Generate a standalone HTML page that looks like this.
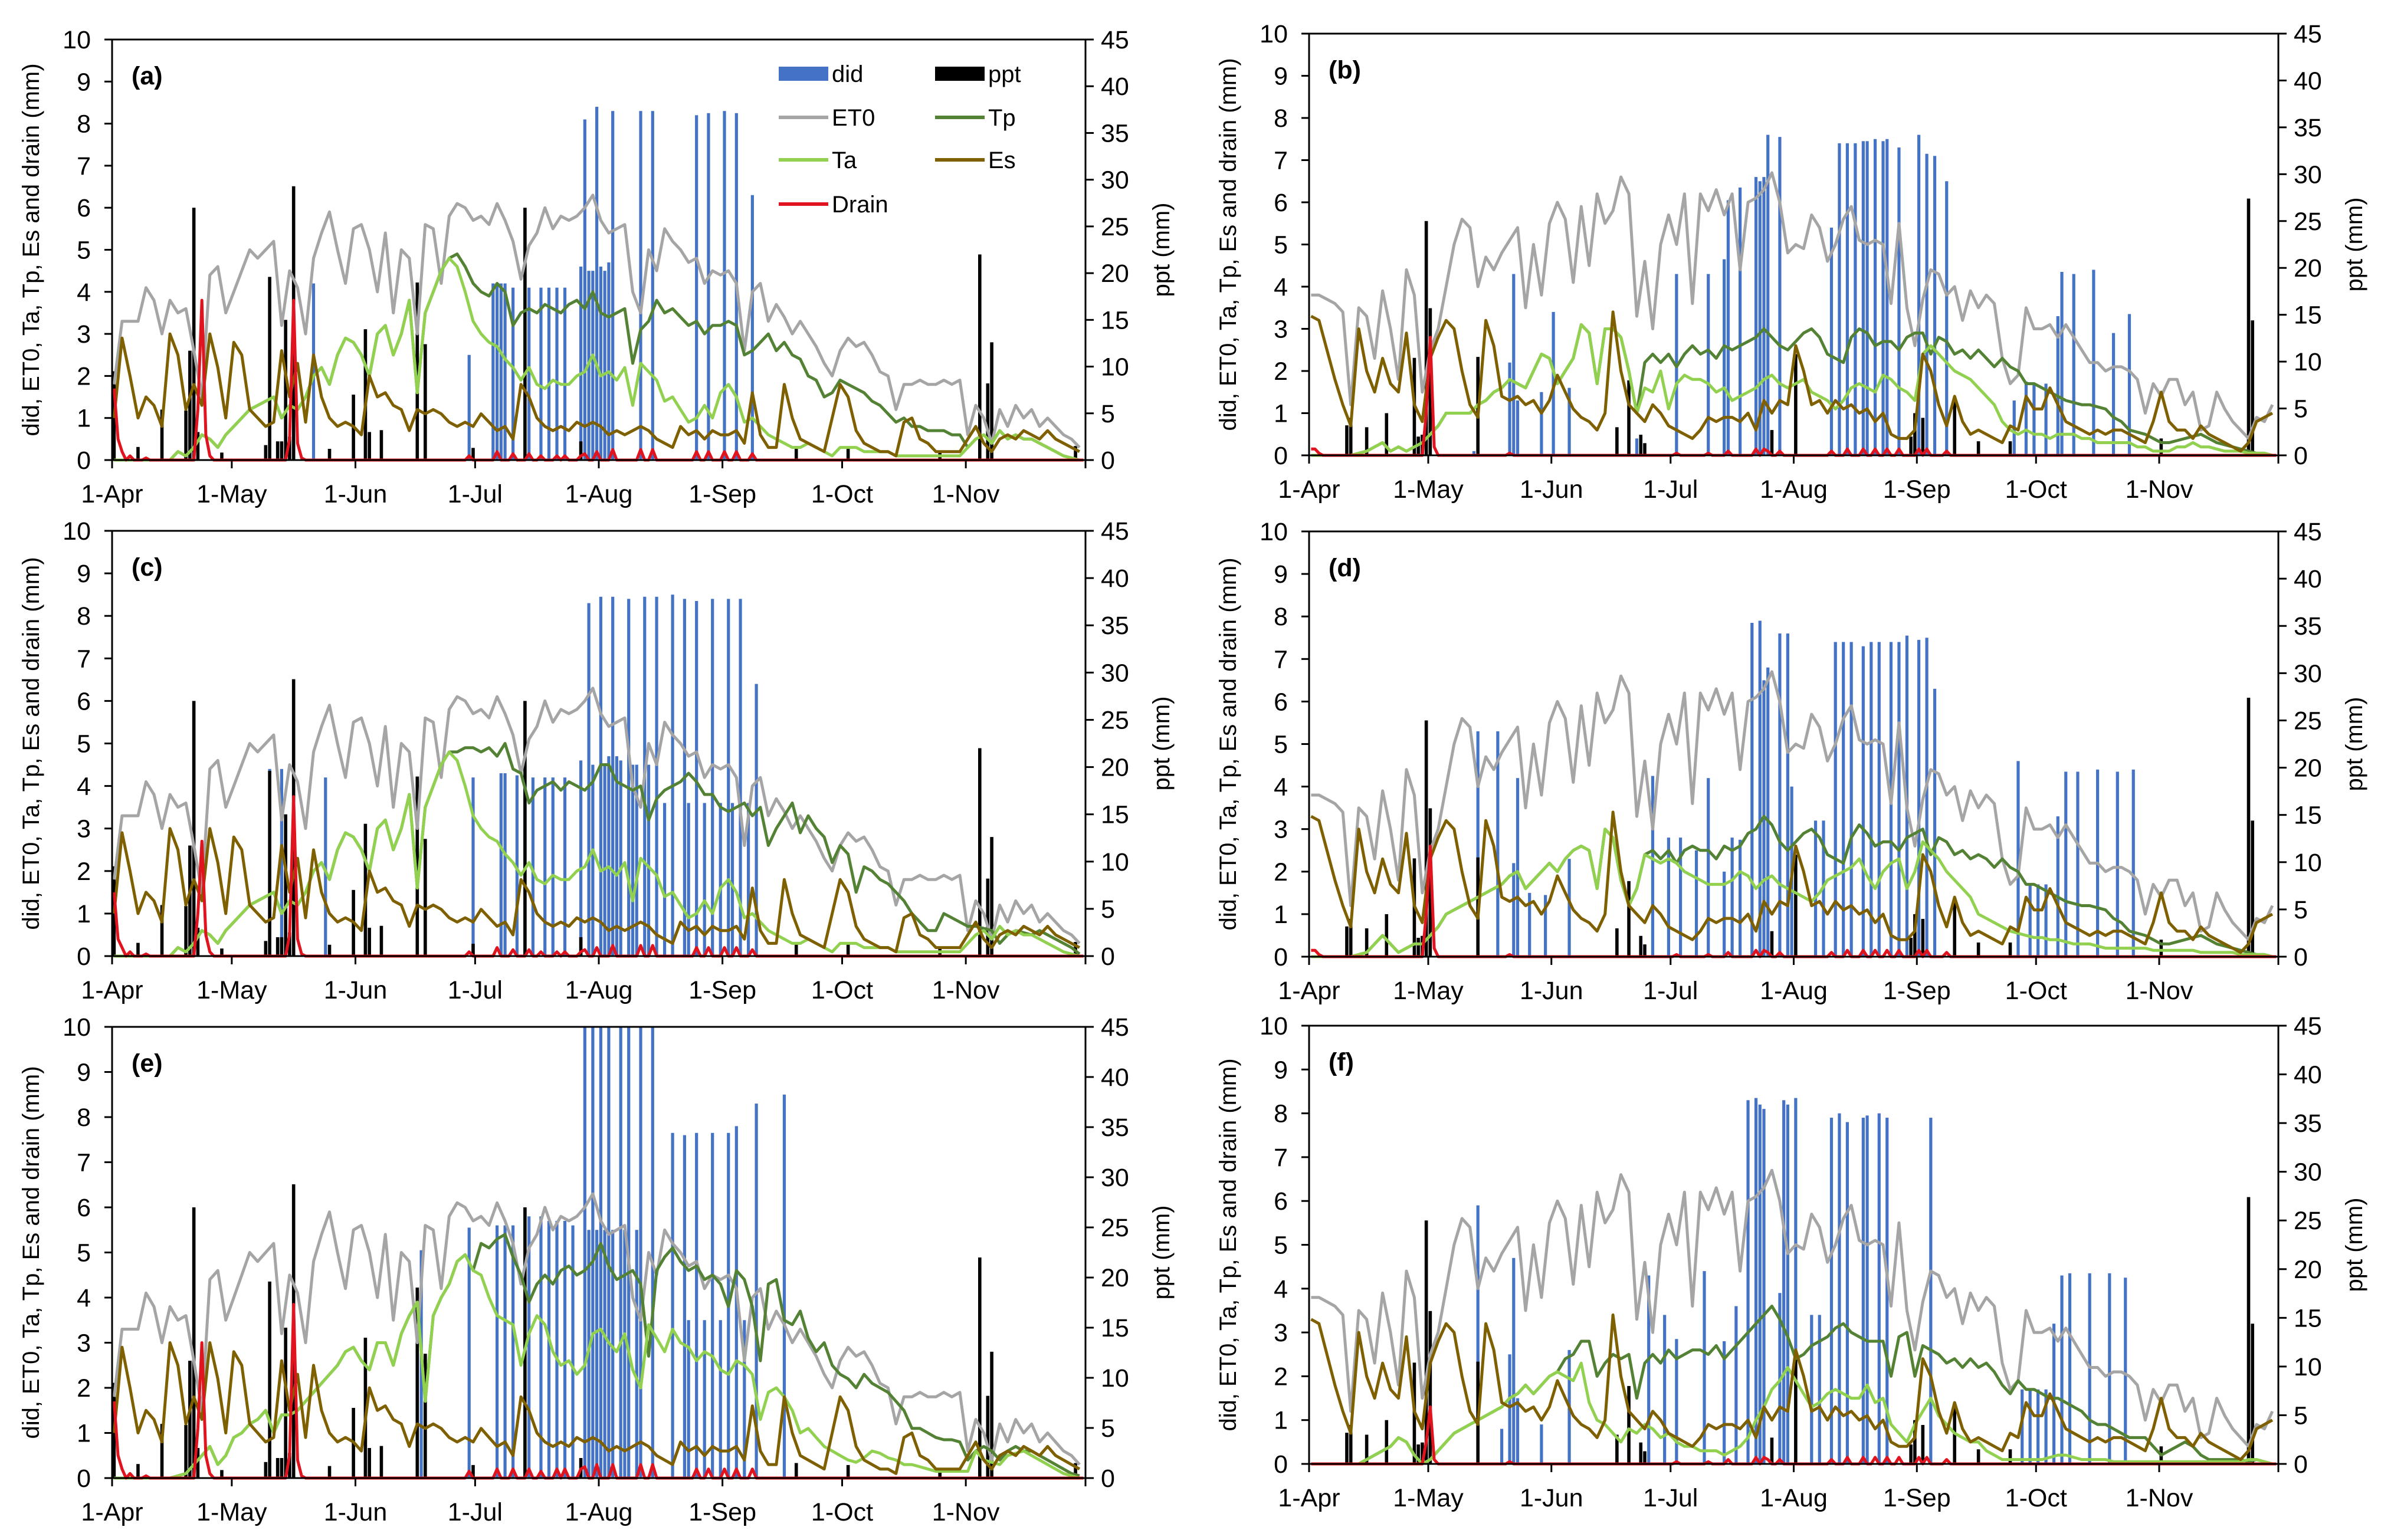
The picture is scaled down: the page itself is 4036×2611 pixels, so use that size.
<!DOCTYPE html>
<html><head><meta charset="utf-8"><style>
html,body{margin:0;padding:0;background:#fff;}
svg{display:block;font-family:"Liberation Sans",Arial,sans-serif;}
</style></head><body>
<svg id="chart" width="4036" height="2611" viewBox="0 0 4036 2611" xmlns="http://www.w3.org/2000/svg">
<rect x="0" y="0" width="4036" height="2611" fill="#fff"/>
</svg>
<script>
// ---------- DATA (line series sampled every 2 days, day 0 = 1-Apr) ----------
const months = ['1-Apr','1-May','1-Jun','1-Jul','1-Aug','1-Sep','1-Oct','1-Nov'];
const monthDays = [0,30,61,91,122,153,183,214,244];
const leftTicks = [0,1,2,3,4,5,6,7,8,9,10];
const rightTicks = [0,5,10,15,20,25,30,35,40,45];

const et0A = [1.8,3.3,3.3,3.3,4.1,3.8,3.0,3.8,3.5,3.6, 2.6,1.5,4.4,4.6,3.5,4.0,4.5,5.0,4.8,5.0, 5.2,3.2,4.5,4.1,3.0,4.8,5.4,5.9,5.0,4.2, 5.5,5.6,5.0,4.0,5.4,3.5,5.0,4.8,3.0,5.6, 5.5,4.2,5.8,6.1,6.0,5.7,5.8,5.6,6.1,5.7, 5.2,4.3,5.1,5.4,6.0,5.5,5.8,5.7,5.8,6.0, 6.3,5.7,5.4,5.5,5.6,4.0,3.5,5.0,4.5,5.5, 5.2,5.0,4.7,4.8,4.2,4.5,4.4,4.5,4.2,2.6, 4.0,4.2,3.3,3.7,3.4,3.0,3.3,3.0,2.7,2.3, 2.0,2.6,2.9,2.7,2.8,2.5,2.1,2.0,1.2,1.8, 1.8,1.9,1.8,1.8,1.9,1.8,1.9,0.6,1.3,1.0, 0.4,1.2,0.8,1.3,1.0,1.2,0.8,1.0,0.8,0.6, 0.5,0.3];
const taA = [0,0,0,0,0,0,0,0,0.2,0.1, 0.3,0.6,0.5,0.3,0.6,0.8,1.0,1.2,1.3,1.4, 1.5,1.0,1.3,1.2,1.5,2.0,2.2,1.8,2.5,2.9, 2.8,2.5,2.0,3.0,3.2,2.5,3.0,3.8,1.6,3.5, 4.0,4.5,4.8,4.6,4.0,3.3,3.0,2.8,2.7,2.4, 2.2,1.9,2.2,1.8,1.7,1.9,1.8,1.8,2.0,2.1, 2.5,2.0,2.1,1.9,2.2,1.3,2.3,2.1,1.9,1.4, 1.5,1.2,0.9,1.0,1.3,1.0,1.6,1.8,1.5,0.9, 1.0,0.8,0.6,0.5,0.4,0.3,0.3,0.4,0.3,0.2, 0.1,0.3,0.3,0.3,0.2,0.2,0.2,0.2,0.1,0.1, 0.1,0.1,0.1,0.1,0.1,0.1,0.1,0.3,0.5,0.6, 0.4,0.7,0.5,0.6,0.5,0.5,0.4,0.3,0.2,0.1, 0.05,0];
const tpA = [0,0,0,0,0,0,0,0,0.2,0.1, 0.3,0.6,0.5,0.3,0.6,0.8,1.0,1.2,1.3,1.4, 1.5,1.0,1.3,1.2,1.5,2.0,2.2,1.8,2.5,2.9, 2.8,2.5,2.0,3.0,3.2,2.5,3.0,3.8,1.6,3.5, 4.0,4.5,4.8,4.9,4.6,4.2,4.0,3.9,4.2,4.0, 3.2,3.5,3.6,3.5,3.7,3.6,3.5,3.7,3.8,3.6, 4.0,3.5,3.4,3.5,3.6,2.3,3.1,3.3,3.8,3.5, 3.6,3.4,3.2,3.3,3.0,3.2,3.2,3.3,3.2,2.5, 2.6,2.8,3.0,2.6,2.8,2.5,2.4,2.0,1.9,1.5, 1.6,1.9,1.8,1.7,1.6,1.4,1.3,1.1,0.9,1.0, 0.8,0.8,0.7,0.7,0.7,0.6,0.6,0.3,0.5,0.6, 0.4,0.7,0.5,0.6,0.5,0.5,0.4,0.3,0.2,0.1, 0.05,0];
const esA = [1.0,2.9,2.0,1.0,1.5,1.3,0.8,3.0,2.5,1.2, 1.8,1.3,3.0,2.2,1.0,2.8,2.5,1.2,1.0,0.8, 0.9,2.6,1.5,2.3,0.9,2.5,1.5,1.0,0.8,0.9, 0.8,0.6,2.0,1.5,1.6,1.3,1.2,0.7,1.2,1.1, 1.2,1.1,0.9,0.8,0.9,0.8,1.1,0.9,0.7,0.8, 0.5,1.8,1.5,1.0,0.8,0.7,0.8,0.7,0.9,0.8, 0.9,0.8,0.6,0.7,0.6,0.7,0.8,0.7,0.5,0.4, 0.3,0.8,0.6,0.7,0.5,0.7,0.6,0.6,0.7,0.4, 1.6,0.6,0.3,0.3,1.8,1.0,0.5,0.4,0.3,0.2, 1.0,1.8,1.5,0.7,0.4,0.3,0.2,0.2,0.1,0.9, 1.0,0.5,0.4,0.2,0.2,0.2,0.2,0.5,0.8,0.4, 0.2,0.5,0.6,0.5,0.7,0.6,0.5,0.7,0.5,0.4, 0.3,0.2];
const tpC = [0,0,0,0,0,0,0,0,0.2,0.1, 0.3,0.6,0.5,0.3,0.6,0.8,1.0,1.2,1.3,1.4, 1.5,1.0,1.3,1.2,1.5,2.0,2.2,1.8,2.5,2.9, 2.8,2.5,2.0,3.0,3.2,2.5,3.0,3.8,1.6,3.5, 4.0,4.5,4.8,4.8,4.9,4.9,4.8,4.9,4.7,5.0, 4.4,4.3,3.6,3.9,4.0,4.1,3.9,4.1,4.0,3.9, 4.1,4.5,4.5,4.1,4.0,3.9,4.0,3.2,3.7,3.9, 4.0,4.1,4.3,4.1,3.8,3.8,3.5,3.4,3.5,3.6, 3.3,3.5,2.6,3.0,3.3,3.6,2.9,3.3,3.0,2.8, 2.2,2.6,2.4,1.5,2.1,2.0,1.8,1.7,1.5,1.3, 1.0,0.8,0.6,0.6,1.0,0.9,0.8,0.7,0.7,0.65, 0.6,0.3,0.5,0.6,0.55,0.5,0.6,0.5,0.4,0.3, 0.2,0.05];
const taE = [0,0,0,0,0,0,0,0,0.05,0.1, 0.3,0.5,0.7,0.3,0.5,0.9,1.0,1.2,1.3,1.5, 1.0,1.4,1.4,1.5,1.7,1.9,2.1,2.3,2.5,2.8, 2.9,2.6,2.4,3.0,3.0,2.5,3.2,3.6,3.9,1.7, 3.6,4.0,4.3,4.8,4.95,4.6,4.5,4.0,3.6,3.5, 3.4,2.5,3.2,3.6,3.4,2.8,2.5,2.6,2.3,2.5, 3.2,3.3,3.0,2.8,3.2,2.4,2.0,3.4,3.1,2.8, 3.3,3.0,2.9,2.6,2.8,2.7,2.4,2.3,2.6,2.5, 2.3,1.3,1.9,2.0,1.8,1.5,1.0,1.1,0.9,0.7, 0.6,0.5,0.4,0.35,0.45,0.6,0.55,0.45,0.4,0.3, 0.3,0.25,0.2,0.15,0.15,0.15,0.15,0.15,0.6,0.4, 0.35,0.3,0.5,0.55,0.6,0.5,0.4,0.3,0.2,0.1, 0.05,0];
const tpE = [0,0,0,0,0,0,0,0,0.05,0.1, 0.3,0.5,0.7,0.3,0.5,0.9,1.0,1.2,1.3,1.5, 1.0,1.4,1.4,1.5,1.7,1.9,2.1,2.3,2.5,2.8, 2.9,2.6,2.4,3.0,3.0,2.5,3.2,3.6,3.9,1.7, 3.6,4.0,4.3,4.8,4.95,4.6,5.2,5.1,5.3,5.4, 4.9,4.5,3.9,4.3,4.5,4.3,4.6,4.7,4.5,4.6, 4.8,5.2,4.7,4.4,4.5,4.6,4.3,2.7,4.6,4.9, 5.1,4.8,4.6,4.7,4.4,4.5,4.3,3.8,4.6,4.4, 3.8,2.6,4.3,4.4,3.5,3.4,3.7,3.1,2.8,3.0, 2.5,2.3,2.2,2.0,2.3,2.1,2.0,1.9,1.7,1.5, 1.1,1.1,1.0,0.9,0.85,0.85,0.8,0.4,0.6,0.7, 0.6,0.4,0.6,0.7,0.6,0.6,0.5,0.4,0.3,0.2, 0.1,0.05];

const et0B = [3.8,3.8,3.7,3.6,3.4,1.2,3.5,3.3,2.3,3.9, 3.0,1.8,4.4,3.8,1.5,2.5,3.0,4.0,5.0,5.6, 5.4,4.0,4.7,4.4,4.8,5.1,5.4,3.5,5.0,3.8, 5.5,6.0,5.6,4.1,5.9,4.5,6.2,5.5,5.8,6.6, 6.2,3.3,4.6,3.0,5.0,5.7,5.0,6.2,3.6,6.2, 5.8,6.3,5.7,6.2,4.4,6.0,6.1,6.3,6.7,6.0, 4.8,5.0,4.9,5.7,5.4,4.6,5.0,5.6,5.9,5.1, 5.0,5.1,5.0,3.6,5.5,3.5,2.6,3.7,4.4,4.3, 3.8,4.0,3.2,3.9,3.5,3.8,3.6,2.3,1.7,1.9, 3.5,3.0,3.0,3.1,2.8,3.1,2.8,2.5,2.2,2.2, 2.0,2.1,2.1,2.0,1.8,1.0,1.7,1.4,1.8,1.8, 1.2,1.5,0.6,0.7,1.5,1.1,0.8,0.6,0.4,0.9, 0.8,1.2];
const taB = [0,0,0,0,0,0,0.05,0.1,0.2,0.3, 0.1,0.2,0.1,0.2,0.3,0.5,0.7,1.0,1.0,1.0, 1.0,1.2,1.3,1.5,1.6,1.8,1.7,1.6,2.0,2.4, 2.3,1.7,2.0,2.3,3.1,2.9,1.7,3.0,3.0,2.8, 2.0,1.0,1.6,1.5,2.0,1.1,1.7,1.9,1.8,1.8, 1.7,1.5,1.6,1.3,1.4,1.5,1.6,1.8,1.9,1.7, 1.6,1.7,1.8,1.5,1.4,1.3,1.1,1.3,1.6,1.7, 1.6,1.5,1.9,1.8,1.6,1.5,1.3,2.4,2.6,2.4, 2.2,2.0,1.9,1.8,1.6,1.4,1.2,0.8,0.6,0.5, 0.6,0.5,0.5,0.4,0.5,0.5,0.5,0.4,0.4,0.3, 0.3,0.3,0.3,0.3,0.2,0.2,0.1,0.1,0.1,0.2, 0.2,0.3,0.2,0.2,0.15,0.1,0.1,0.1,0.05,0.05, 0.05,0];
const tpB = [0,0,0,0,0,0,0.05,0.1,0.2,0.3, 0.1,0.2,0.1,0.2,0.3,0.5,0.7,1.0,1.0,1.0, 1.0,1.2,1.3,1.5,1.6,1.8,1.7,1.6,2.0,2.4, 2.3,1.7,2.0,2.3,3.1,2.9,1.7,3.0,3.0,2.8, 2.0,1.0,2.2,2.4,2.2,2.4,2.1,2.4,2.6,2.4, 2.5,2.3,2.6,2.5,2.6,2.7,2.8,3.0,2.8,2.6, 2.5,2.7,2.9,3.0,2.8,2.4,2.3,2.2,2.8,3.0, 2.9,2.6,2.7,2.7,2.5,2.8,2.9,2.9,2.4,2.8, 2.7,2.4,2.5,2.3,2.5,2.3,2.1,2.3,2.1,2.0, 1.7,1.7,1.6,1.5,1.4,1.3,1.25,1.2,1.2,1.15, 1.1,0.9,0.8,0.6,0.55,0.5,0.4,0.3,0.3,0.35, 0.4,0.45,0.5,0.4,0.3,0.25,0.2,0.15,0.1,0.05, 0.05,0];
const taD = [0,0,0,0,0,0,0.05,0.1,0.3,0.5, 0.3,0.1,0.2,0.3,0.3,0.5,0.7,1.0,1.1,1.2, 1.3,1.4,1.5,1.6,1.7,1.9,2.0,1.6,1.8,2.0, 2.2,2.0,2.3,2.5,2.6,2.5,1.6,3.0,2.8,1.8, 1.2,1.6,2.4,2.3,2.2,2.3,2.2,2.0,1.9,1.8, 1.7,1.7,1.7,1.8,2.0,1.9,1.6,1.8,1.9,1.7, 1.6,1.5,1.4,1.3,1.5,1.8,1.9,2.0,2.1,2.3, 1.9,1.6,2.0,2.2,2.3,1.6,2.0,2.7,2.5,2.3, 2.0,1.8,1.6,1.4,1.0,0.9,0.8,0.7,0.6,0.55, 0.5,0.45,0.45,0.4,0.4,0.35,0.3,0.3,0.3,0.25, 0.2,0.2,0.2,0.2,0.2,0.2,0.15,0.15,0.15,0.15, 0.15,0.15,0.1,0.1,0.1,0.1,0.1,0.05,0.05,0.05, 0.05,0];
const tpD = [0,0,0,0,0,0,0.05,0.1,0.3,0.5, 0.3,0.1,0.2,0.3,0.3,0.5,0.7,1.0,1.1,1.2, 1.3,1.4,1.5,1.6,1.7,1.9,2.0,1.6,1.8,2.0, 2.2,2.0,2.3,2.5,2.6,2.5,1.6,3.0,2.8,1.8, 1.2,1.6,2.4,2.5,2.3,2.5,2.2,2.5,2.6,2.5, 2.5,2.3,2.6,2.5,2.6,2.9,3.0,3.3,3.1,2.7, 2.5,2.7,2.9,3.0,2.8,2.4,2.3,2.2,2.8,3.1, 2.9,2.6,2.7,2.7,2.5,2.8,2.9,3.0,2.4,2.8, 2.7,2.4,2.5,2.3,2.4,2.3,2.1,2.3,2.1,2.0, 1.7,1.7,1.6,1.5,1.4,1.3,1.25,1.2,1.2,1.15, 1.1,0.9,0.8,0.6,0.55,0.5,0.4,0.3,0.3,0.35, 0.4,0.45,0.5,0.4,0.3,0.25,0.2,0.15,0.1,0.05, 0.05,0];
const taF = [0,0,0,0,0,0,0,0.1,0.2,0.3, 0.4,0.6,0.5,0.2,0,0.1,0.3,0.5,0.7,0.8, 0.9,1.0,1.1,1.2,1.3,1.5,1.6,1.8,1.6,1.8, 2.0,2.1,2.0,1.9,2.3,1.4,1.0,0.9,0.7,0.5, 0.8,0.7,0.9,0.8,0.6,0.7,0.5,0.4,0.4,0.3, 0.3,0.3,0.2,0.3,0.4,0.6,1.0,1.3,1.7,1.9, 2.2,1.9,1.6,1.3,1.4,1.6,1.7,1.6,1.5,1.5, 1.8,1.4,1.5,0.9,0.7,0.5,0.9,1.2,1.5,1.1, 0.9,0.7,0.6,0.5,0.5,0.3,0.2,0.1,0.1,0.1, 0.1,0.1,0.1,0.15,0.2,0.2,0.15,0.1,0.1,0.1, 0.1,0.05,0.05,0.05,0.05,0.05,0.05,0.05,0.05,0.05, 0.05,0.05,0.05,0.05,0.05,0.05,0.05,0.05,0.1,0.1, 0.05,0];
const tpF = [0,0,0,0,0,0,0,0.1,0.2,0.3, 0.4,0.6,0.5,0.2,0,0.1,0.3,0.5,0.7,0.8, 0.9,1.0,1.1,1.2,1.3,1.5,1.6,1.8,1.6,1.8, 2.0,2.1,2.4,2.5,2.8,2.8,2.0,2.3,2.5,2.4, 2.5,1.5,2.3,2.5,2.3,2.6,2.4,2.5,2.6,2.6, 2.5,2.7,2.4,2.6,2.8,3.0,3.2,3.4,3.6,3.3, 2.9,2.4,2.5,2.7,2.8,2.9,3.1,3.2,3.0,2.9, 2.8,2.8,2.8,2.0,2.9,3.0,2.0,2.7,2.6,2.5, 2.3,2.4,2.2,2.4,2.2,2.3,2.1,1.8,1.6,1.9, 1.7,1.7,1.6,1.5,1.5,1.4,1.3,1.2,1.0,0.9, 0.9,0.8,0.7,0.6,0.6,0.6,0.4,0.2,0.3,0.4, 0.5,0.4,0.2,0.1,0.1,0.1,0.1,0.1,0.05,0.1, 0.05,0];
const esB = [3.3,3.2,2.5,1.8,1.2,0.7,3.0,2.0,1.5,2.3, 1.7,1.5,2.9,1.2,0.8,2.3,2.8,3.2,3.0,2.0, 1.2,0.9,3.2,2.6,1.4,1.3,1.4,1.2,1.3,1.0, 1.3,1.9,1.5,1.1,0.9,0.8,0.6,1.0,3.4,2.0, 1.2,1.0,0.8,1.2,1.0,0.7,0.6,0.5,0.4,0.6, 0.9,0.8,0.9,0.9,0.8,1.0,0.6,1.3,1.0,1.3, 1.2,2.6,2.0,1.2,1.3,1.0,1.3,1.1,1.2,1.0, 1.1,0.8,1.0,0.5,0.4,0.4,0.6,2.4,2.0,1.2, 0.7,1.4,0.8,0.5,0.6,0.5,0.4,0.3,0.7,0.6, 1.4,1.1,1.1,1.6,1.2,0.8,0.7,0.6,0.5,0.6, 0.5,0.6,0.6,0.5,0.4,0.3,0.8,1.5,0.8,0.6, 0.6,0.4,0.7,0.5,0.4,0.3,0.2,0.1,0.3,0.8, 0.9,1.0];

// precipitation (mm, right axis) — event days and amounts
const pptADays = [0,6,12,18,19,20,21,27,38,39,41,42,43,44,45,54,60,63,64,67,76,78,90,103,117,171,184,207,217,219,220,241];
const pptAVals = [9.5,1.4,5.4,5.3,11.7,27,3,0.8,1.6,19.6,2,2,15,2.5,29.3,1.2,7,14,3,3.2,19,12.4,1.3,27,2,1.5,1.3,0.8,22,8.2,12.6,1.5];
const pptBDays = [9,10,14,19,26,27,28,29,30,42,77,80,83,84,116,122,151,152,154,162,168,176,214,236,237];
const pptBVals = [3.2,4,3,4.5,10.4,2,2.2,25,15.7,10.5,3,8,2.2,1.3,2.7,10.8,2,4.5,4,5.8,1.5,1.5,1.8,27.4,14.4];

// irrigation (did) events
const didADays = [50,89,95,96,97,98,100,104,107,109,111,113,117,118,119,120,121,122,123,124,125,132,135,146,149,153,156,160];
const didAVals = [4.2,2.5,4.2,4.2,4.2,4.2,4.1,4.1,4.1,4.1,4.1,4.1,4.6,8.1,4.5,4.5,8.4,4.6,4.5,4.7,8.3,8.3,8.3,8.2,8.25,8.3,8.25,6.3];
const didCDays = [39,42,53,90,97,98,101,105,108,110,113,117,119,120,122,123,124,125,126,127,129,130,131,133,134,136,138,140,143,144,146,148,150,152,154,155,157,159,161];
const didCVals = [4.4,4.4,4.2,4.2,4.3,4.3,4.25,4.2,4.2,4.2,4.2,4.6,8.3,4.5,8.45,4.5,4.7,8.45,4.7,4.6,8.4,4.5,4.5,8.45,4.5,8.45,3.6,8.5,8.4,3.6,8.35,3.6,8.4,3.6,8.4,3.6,8.4,3.6,6.4];
const didEDays = [39,77,89,96,98,100,104,107,109,111,113,115,118,119,120,121,122,123,124,125,127,128,129,131,132,135,140,143,144,146,148,150,152,154,156,158,161,168];
const didEVals = [0.1,5.05,5.55,5.6,5.6,5.6,5.8,5.8,5.7,5.7,5.7,5.6,10.5,5.5,10.5,5.5,10.5,5.5,10.5,5.5,10.5,5.5,10.5,5.5,10.5,10.5,7.65,7.6,3.5,7.65,3.5,7.65,3.5,7.65,7.8,3.5,8.3,8.5];
const didBDays = [41,50,51,52,58,61,65,82,92,100,104,105,108,112,113,114,115,118,131,133,135,137,139,140,142,144,145,148,153,155,157,160,177,180,182,185,188,189,192,197,202,206];
const didBVals = [0.1,2.2,4.3,1.3,1.5,3.4,1.6,0.4,4.3,4.3,4.65,6.05,6.35,6.6,6.5,6.6,7.6,7.55,5.4,7.4,7.4,7.4,7.45,7.45,7.5,7.45,7.5,7.3,7.6,7.15,7.1,6.5,1.3,1.75,1.7,1.7,3.3,4.35,4.3,4.4,2.9,3.35];
const didDDays = [42,47,51,52,55,59,65,86,90,93,97,100,104,106,108,111,113,114,115,118,120,121,127,129,132,134,136,139,141,143,146,148,150,153,155,157,178,181,183,185,188,190,193,198,203,207];
const didDVals = [5.3,5.3,2.2,4.2,1.5,1.45,2.3,4.25,2.8,2.8,2.5,4.2,2.0,2.8,2.75,7.85,7.9,6.5,6.8,7.6,7.6,4.0,3.2,3.2,7.4,7.4,7.4,7.3,7.4,7.4,7.4,7.4,7.55,7.45,7.5,6.3,4.6,1.7,1.7,1.7,3.3,4.35,4.35,4.4,4.35,4.4];
const didFDays = [42,48,50,51,52,58,65,85,89,92,99,104,107,110,112,113,114,118,119,120,122,126,128,131,133,135,139,140,143,145,156,179,181,183,185,187,189,191,196,201,205];
const didFVals = [5.9,0.8,2.5,4.7,1.5,0.9,2.6,4.3,3.4,2.85,4.4,2.8,3.6,8.3,8.35,8.2,8.1,3.9,8.3,8.2,8.35,3.4,3.4,7.9,8.0,7.8,7.9,7.95,8.0,7.9,7.9,1.7,1.7,1.7,1.7,3.2,4.3,4.35,4.35,4.35,4.25];

// drainage events (daily values; other days zero)
const drainADays = [0,1,2,4,8,9,20,21,22,23,24,43,44,45,46,47,89,96,100,104,107,111,113,117,118,121,125,132,135,146,149,153,156,160];
const drainAVals = [1.7,0.5,0.2,0.1,0.05,0,0,1.2,3.8,0.6,0.1,0,0.5,3.8,0.4,0.05,0.1,0.2,0.15,0.15,0.1,0.1,0.1,0.1,0.15,0.2,0.25,0.25,0.25,0.2,0.2,0.2,0.2,0.15];
const drainCVals = [1.5,0.4,0.2,0.1,0.05,0,0,1.0,2.7,0.5,0.1,0,0.5,3.75,0.4,0.05,0.1,0.2,0.15,0.15,0.1,0.1,0.1,0.1,0.15,0.2,0.25,0.25,0.25,0.2,0.2,0.2,0.2,0.15];
const drainEVals = [1.7,0.5,0.2,0.1,0.05,0,0,1.1,3.0,0.5,0.1,0,0.5,3.85,0.4,0.05,0.15,0.2,0.2,0.2,0.15,0.2,0.2,0.2,0.25,0.3,0.3,0.3,0.3,0.2,0.2,0.2,0.2,0.2];
const drainBDays = [0,1,2,3,28,29,30,31,32,50,92,100,105,112,114,115,118,131,135,139,142,145,148,153,155,160];
const drainBVals = [0.15,0.15,0.05,0,0,1.0,2.8,0.2,0,0.05,0.05,0.05,0.1,0.15,0.15,0.1,0.1,0.1,0.15,0.15,0.15,0.15,0.15,0.15,0.15,0.1];
const drainDVals = [0.15,0.15,0.05,0,0,1.0,2.6,0.2,0,0.05,0.05,0.05,0.1,0.15,0.15,0.1,0.1,0.1,0.15,0.15,0.15,0.15,0.15,0.15,0.15,0.1];
const drainFVals = [0,0,0,0,0,0.5,1.3,0.1,0,0.05,0.05,0.05,0.1,0.15,0.15,0.1,0.1,0.1,0.15,0.15,0.15,0.15,0.15,0.15,0.15,0.1];

const COL = {did:'#4472C4', ppt:'#000000', et0:'#A5A5A5', tp:'#548235', ta:'#92D050', es:'#7F6000', drain:'#E0141E'};
const NS = 'http://www.w3.org/2000/svg';
const svg = document.getElementById('chart');

const panels = [
  {id:'a', x0:190, x1:1840, yt:67, yb:780, et0:et0A, ta:taA, tp:tpA, es:esA, pD:pptADays, pV:pptAVals, dD:didADays, dV:didAVals, rD:drainADays, rV:drainAVals, legend:true},
  {id:'b', x0:2219, x1:3862, yt:57, yb:772, et0:et0B, ta:taB, tp:tpB, es:esB, pD:pptBDays, pV:pptBVals, dD:didBDays, dV:didBVals, rD:drainBDays, rV:drainBVals},
  {id:'c', x0:190, x1:1840, yt:900, yb:1621, et0:et0A, ta:taA, tp:tpC, es:esA, pD:pptADays, pV:pptAVals, dD:didCDays, dV:didCVals, rD:drainADays, rV:drainCVals},
  {id:'d', x0:2219, x1:3862, yt:901, yb:1622, et0:et0B, ta:taD, tp:tpD, es:esB, pD:pptBDays, pV:pptBVals, dD:didDDays, dV:didDVals, rD:drainBDays, rV:drainDVals},
  {id:'e', x0:190, x1:1840, yt:1741, yb:2506, et0:et0A, ta:taE, tp:tpE, es:esA, pD:pptADays, pV:pptAVals, dD:didEDays, dV:didEVals, rD:drainADays, rV:drainEVals},
  {id:'f', x0:2219, x1:3862, yt:1739, yb:2482, et0:et0B, ta:taF, tp:tpF, es:esB, pD:pptBDays, pV:pptBVals, dD:didFDays, dV:didFVals, rD:drainBDays, rV:drainFVals}
];

function mk(tag, parent){ const e=document.createElementNS(NS,tag); parent.appendChild(e); return e; }
function txt(parent, x, y, s, size, anchor, weight){
  const t=mk('text',parent); t.setAttribute('x',x); t.setAttribute('y',y);
  t.setAttribute('font-size',size); t.setAttribute('text-anchor',anchor||'start');
  if(weight) t.setAttribute('font-weight',weight);
  t.setAttribute('fill','#000'); t.textContent=s; return t;
}

panels.forEach(p=>{
  const g = mk('g', svg);
  
  
  const xs = d => p.x0 + d*(p.x1-p.x0)/244;
  const yl = v => p.yb - Math.min(v,10)/10*(p.yb-p.yt);
  const yr = v => p.yb - Math.min(v,45)/45*(p.yb-p.yt);

  // did bars
  const gd = mk('g', g);
  
  
  p.dD.forEach((d,i)=>{
    const r = mk('rect', gd);
    
    
    const y = yl(p.dV[i]);
    r.setAttribute('x', xs(d+0.5)-2.6); r.setAttribute('width', 5.2);
    r.setAttribute('y', y); r.setAttribute('height', p.yb-y); r.setAttribute('fill', COL.did);
  });
  // ppt bars
  const gp = mk('g', g);
  
  
  p.pD.forEach((d,i)=>{
    const r = mk('rect', gp);
    
    
    const y = yr(p.pV[i]);
    r.setAttribute('x', xs(d+0.5)-2.8); r.setAttribute('width', 5.6);
    r.setAttribute('y', y); r.setAttribute('height', p.yb-y); r.setAttribute('fill', COL.ppt);
  });
  // lines
  function line(arr, color, name){
    const pl = mk('polyline', g);
    
    
    pl.setAttribute('points', arr.map((v,i)=>xs(i*2+0.5).toFixed(1)+','+yl(v).toFixed(1)).join(' '));
    pl.setAttribute('fill','none'); pl.setAttribute('stroke',color); pl.setAttribute('stroke-width',5);
    pl.setAttribute('stroke-linejoin','round');
  }
  line(p.et0, COL.et0, 'et0');
  line(p.tp, COL.tp, 'tp');
  line(p.ta, COL.ta, 'ta');
  line(p.es, COL.es, 'es');
  // drain (daily)
  const daily = new Array(244).fill(0);
  p.rD.forEach((d,i)=>{ daily[d] = p.rV[i]; });
  const dl = mk('polyline', g);
  
  
  dl.setAttribute('points', daily.map((v,i)=>xs(i+0.5).toFixed(1)+','+yl(v).toFixed(1)).join(' '));
  dl.setAttribute('fill','none'); dl.setAttribute('stroke',COL.drain); dl.setAttribute('stroke-width',5);
  dl.setAttribute('stroke-linejoin','round');

  // axes
  const ax = mk('g', g);
  
  
  ax.setAttribute('stroke','#000'); ax.setAttribute('stroke-width',3);
  const L=(x1,y1,x2,y2)=>{const l=mk('line',ax); l.setAttribute('x1',x1); l.setAttribute('y1',y1); l.setAttribute('x2',x2); l.setAttribute('y2',y2);};
  L(p.x0,p.yt,p.x1,p.yt); L(p.x0,p.yb,p.x1,p.yb); L(p.x0,p.yt,p.x0,p.yb); L(p.x1,p.yt,p.x1,p.yb);
  leftTicks.forEach(v=>L(p.x0-13,yl(v),p.x0,yl(v)));
  rightTicks.forEach(v=>L(p.x1,yr(v),p.x1+14,yr(v)));
  monthDays.forEach(d=>L(xs(d),p.yb,xs(d),p.yb+14));

  const gl = mk('g', g);
  
  
  leftTicks.forEach(v=>txt(gl, p.x0-36, yl(v)+15, String(v), 43, 'end'));
  const gr = mk('g', g);
  
  
  rightTicks.forEach(v=>txt(gr, p.x1+26, yr(v)+15, String(v), 43, 'start'));
  const gx = mk('g', g);
  
  
  months.forEach((m,i)=>txt(gx, xs(monthDays[i]), p.yb+72, m, 43, 'middle'));

  const cy = (p.yt+p.yb)/2;
  const yt1 = txt(g, 0, 0, 'did, ET0, Ta, Tp, Es and drain (mm)', 40, 'middle');
  yt1.setAttribute('transform', 'translate('+(p.x0-124)+','+cy+') rotate(-90)');
  
  
  const yt2 = txt(g, 0, 0, 'ppt (mm)', 40, 'middle');
  yt2.setAttribute('transform', 'translate('+(p.x1+142)+','+cy+') rotate(-90)');
  
  
  const pl = txt(g, p.x0+33, p.yt+76, '('+p.id+')', 43, 'start', 'bold');
  
  

  if(p.legend){
    const lg = mk('g', g);
    
    
    const entries = [
      {n:'did', c:COL.did, x:1320, y:125, bar:true},
      {n:'ppt', c:COL.ppt, x:1585, y:125, bar:true},
      {n:'ET0', c:COL.et0, x:1320, y:199},
      {n:'Tp', c:COL.tp, x:1585, y:199},
      {n:'Ta', c:COL.ta, x:1320, y:271},
      {n:'Es', c:COL.es, x:1585, y:271},
      {n:'Drain', c:COL.drain, x:1320, y:346}
    ];
    entries.forEach(e=>{
      const eg = mk('g', lg);
      
      
      const r = mk('rect', eg);
      if(e.bar){ r.setAttribute('x',e.x); r.setAttribute('y',e.y-12); r.setAttribute('width',84); r.setAttribute('height',24); }
      else { r.setAttribute('x',e.x); r.setAttribute('y',e.y-3); r.setAttribute('width',84); r.setAttribute('height',6); }
      r.setAttribute('fill', e.c);
      txt(eg, e.x+90, e.y+14, e.n, 40, 'start');
    });
  }
});
</script>
</body></html>
